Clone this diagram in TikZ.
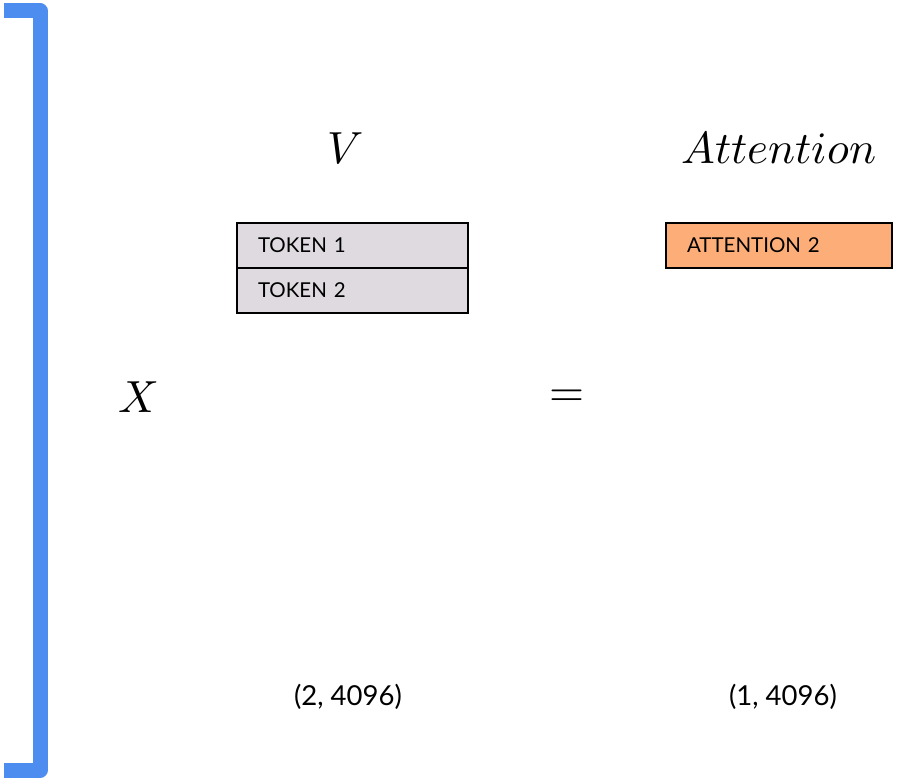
\documentclass[tikz,border=0pt]{standalone}
\usepackage{fontspec}
\usepackage{unicode-math}
\newfontfamily\lbl{Lato}
\definecolor{bracketblue}{RGB}{78,141,240}
\definecolor{tokfill}{RGB}{222,218,224}
\definecolor{attfill}{RGB}{253,174,120}
\tikzset{
  cellbox/.style={draw=black, line width=1.8pt, minimum height=45pt, inner xsep=21pt, outer sep=0pt,
    text width=189pt, align=left, anchor=north west, font=\lbl\fontsize{20.5}{23}\selectfont},
  mathlbl/.style={font=\fontsize{45}{50}\selectfont, inner sep=0pt},
  dimlbl/.style={font=\lbl\fontsize{27.5}{31}\selectfont, inner sep=0pt}
}
\begin{document}
\begin{tikzpicture}[x=1pt,y=-1pt]
\useasboundingbox (0,0) rectangle (898,778);
% bracket
\coordinate (b1) at (4,11);
\coordinate (b2) at (40,11);
\coordinate (b3) at (40,770);
\coordinate (b4) at (4,770);
\draw[bracketblue, line width=15pt, line join=round] (b1) -- (b2) -- (b3) -- (b4);
% labels
\node[mathlbl] (V) at (345,149) {$V$};
\node[mathlbl] (att) at (779,148) {$Attention$};
\node[mathlbl] (X) at (138,397) {$X$};
\node[mathlbl] (eq) at (567,398) {$=$};
% token boxes
\node[cellbox, fill=tokfill] (t1) at (237,223) {TOKEN 1};
\node[cellbox, fill=tokfill, anchor=north west] (t2) at (t1.south west) {TOKEN 2};
% attention box
\node[cellbox, fill=attfill, text width=184pt] (a2) at (666,223) {ATTENTION 2};
% dims
\node[dimlbl] (d1) at (348,697) {(2, 4096)};
\node[dimlbl] (d2) at (783,697) {(1, 4096)};
\end{tikzpicture}
\end{document}
